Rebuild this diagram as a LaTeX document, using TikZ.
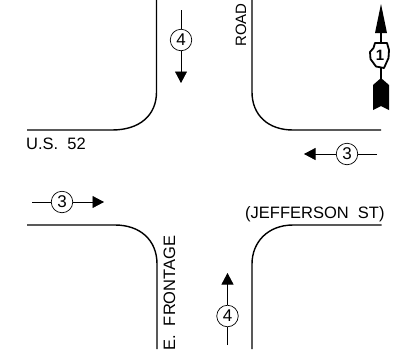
\documentclass[tikz,border=0pt]{standalone}
\usepackage{fontspec}
\setmainfont{Liberation Sans}
\usetikzlibrary{arrows.meta}
\tikzset{
 curb/.style={line width=1.4pt,line cap=butt},
 flow/.style={line width=0.7pt,-{Triangle[length=11.5pt,width=12pt]}},
 flowline/.style={line width=0.7pt},
 vol/.style={circle,draw,line width=0.7pt,fill=white,minimum size=21.5pt,inner sep=0pt,font=\fontsize{17}{17}\selectfont},
 lab/.style={inner sep=0pt,font=\fontsize{16.5}{18}\selectfont,anchor=base west},
 ptr/.style={line width=1.3pt}
}
\begin{document}
\begin{tikzpicture}[x=1pt,y=-1pt]
\useasboundingbox (0,0) rectangle (409,349);
% curbs
\draw[curb] (156.5,0) -- (156.5,92) .. controls (156.5,115) and (140,130) .. (112,130) -- (27,130);
\draw[curb] (252,0) -- (252,92) .. controls (252,115) and (268,130) .. (293,130) -- (381,130);
\draw[curb] (27,225) -- (115,225) .. controls (140,225) and (157,240) .. (157,264) -- (157,349);
\draw[curb] (381.5,225) -- (293,225) .. controls (268,225) and (252,242) .. (252,264) -- (252,349);
% coordinates and volumes
\node[vol] (s) at (181,40) {4};
\coordinate (st) at (181,10);
\coordinate (sh) at (181,83);
\draw[flowline] (st) -- (s);
\draw[flow] (s) -- (sh);
\node[vol] (n) at (227.5,316) {4};
\coordinate (nb) at (227.5,345);
\coordinate (nh) at (227.5,273);
\draw[flowline] (nb) -- (n);
\draw[flow] (n) -- (nh);
\node[vol] (e) at (62,202) {3};
\coordinate (et) at (32,202);
\coordinate (eh) at (104,202);
\draw[flowline] (et) -- (e);
\draw[flow] (e) -- (eh);
\node[vol] (w) at (347,154) {3};
\coordinate (wt) at (377,154);
\coordinate (wh) at (304,154);
\draw[flowline] (wt) -- (w);
\draw[flow] (w) -- (wh);
% labels
\node[lab,rotate=90,font=\fontsize{15}{16}\selectfont] (road) at (246,47) {ROAD};
\node[lab,rotate=90] (front) at (175,351) {E.\ \ FRONTAGE};
\node[lab] (us) at (26,149) {U.S.\ \ 52};
\node[lab] (jeff) at (245,218) {(JEFFERSON\ \ ST)};
% north arrow
\fill (381,4) -- (387,33) -- (375,33) -- cycle;
\draw[ptr] (381,30) -- (381,82);
\fill (381,78) -- (389,85) -- (389,110) -- (381,106) -- (373,110) -- (373,85) -- cycle;
\draw[line width=1.8pt,fill=white,line join=round] (375,43) -- (387,43) -- (389,50) -- (388.5,58) -- (384,68) -- (376,66.5) -- (370.5,59) -- (370,52) -- (373.5,48) -- cycle;
\node[inner sep=0pt,font=\bfseries\fontsize{15}{15}\selectfont] (one) at (380,55) {1};
\end{tikzpicture}
\end{document}
